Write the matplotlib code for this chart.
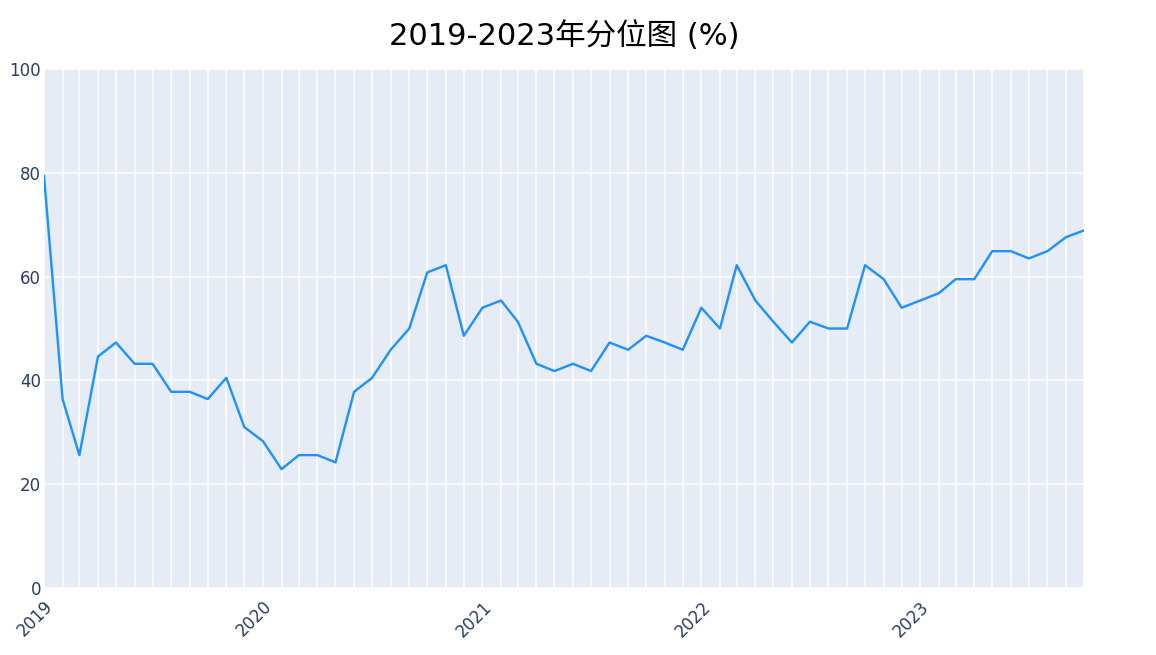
import matplotlib
matplotlib.use("Agg")
import matplotlib.pyplot as plt
import pandas as pd

months = pd.date_range("2019-01-01", "2023-10-01", freq="MS")
values = [
    79.4, 36.4, 25.6, 44.6, 47.3, 43.2, 43.2, 37.8, 37.8, 36.4, 40.5, 31.0,
    28.3, 22.9, 25.6, 25.6, 24.2, 37.8, 40.5, 45.9, 50.0, 60.8, 62.2, 48.6,
    54.0, 55.4, 51.3, 43.2, 41.8, 43.2, 41.8, 47.3, 45.9, 48.6, 47.3, 45.9,
    54.0, 50.0, 62.2, 55.4, 51.3, 47.3, 51.3, 50.0, 50.0, 62.2, 59.5, 54.0,
    55.4, 56.8, 59.5, 59.5, 64.9, 64.9, 63.5, 64.9, 67.6, 68.9,
]
year_ticks = pd.date_range("2019-01-01", "2023-01-01", freq="YS")
year_labels = ["2019", "2020", "2021", "2022", "2023"]
y_ticks = [0, 20, 40, 60, 80, 100]
title = "2019-2023年分位图 (%)"

W, H = 1156, 655
fig = plt.figure(figsize=(W / 100, H / 100), dpi=100)
ax = fig.add_axes([44 / W, (H - 588) / H, 1040 / W, 519 / H])
ax.set_facecolor("#E5ECF6")
for s in ax.spines.values():
    s.set_visible(False)

ax.plot(months, values, color="#1E90FF", linewidth=1.7, zorder=3)

ax.set_xlim(months[0], months[-1])
ax.set_ylim(0, 100)
ax.set_yticks(y_ticks)
ax.set_xticks(year_ticks)
ax.set_xticklabels(year_labels)
ax.set_xticks(months, minor=True)

tick_color = "#2a3f5f"
ax.tick_params(axis="both", which="both", length=0, colors=tick_color, labelsize=12)
ax.tick_params(axis="y", pad=2)
ax.tick_params(axis="x", pad=7)
for lab in ax.get_xticklabels():
    lab.set_rotation(45)
    lab.set_ha("right")
    lab.set_va("top")
    lab.set_rotation_mode("anchor")
    lab.set_fontfamily(["DejaVu Sans"])
for lab in ax.get_yticklabels():
    lab.set_fontfamily(["DejaVu Sans"])

ax.grid(True, which="major", axis="y", color="white", linewidth=1.1)
ax.grid(True, which="both", axis="x", color="white", linewidth=1.1)
ax.set_axisbelow(True)

fig.text(564 / W, 1 - 36 / H, title, ha="center", va="center", fontsize=22,
         family=["DejaVu Sans", "Noto Sans CJK SC"], color="black")

fig.savefig("out.png", dpi=100)
